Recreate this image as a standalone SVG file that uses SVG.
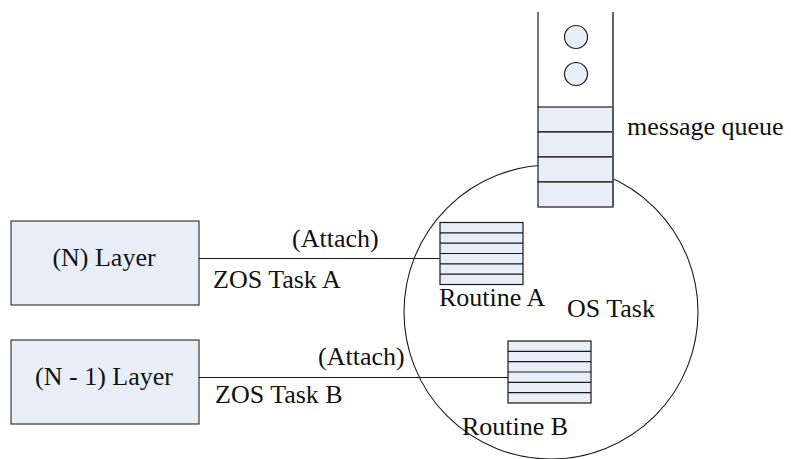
<svg xmlns="http://www.w3.org/2000/svg" width="791" height="459" viewBox="0 0 791 459">
  <style>
    .box { fill: #e8eef8; stroke: #3a3a3a; stroke-width: 1.2; }
    .cell { fill: #e8eef8; stroke: #1a1a1a; stroke-width: 1.2; }
    .row { stroke: #1a1a1a; stroke-width: 1.2; }
    .wire { stroke: #1a1a1a; stroke-width: 1.2; fill: none; }
    .lbl { font-family: "Liberation Serif", "Times New Roman", serif; font-size: 26px; fill: #111; }
    .mid { text-anchor: middle; }
  </style>

  <!-- OS task boundary -->
  <g id="os-task">
    <circle cx="551" cy="312" r="147" fill="none" stroke="#1a1a1a" stroke-width="1.1"/>
    <text class="lbl" x="567" y="317">OS Task</text>
  </g>

  <!-- message queue: open-topped stack of cells with two pending messages -->
  <g id="message-queue">
    <rect x="538" y="12" width="75" height="95" fill="#ffffff"/>
    <rect class="cell" x="538" y="107" width="75" height="25"/>
    <rect class="cell" x="538" y="132" width="75" height="25"/>
    <rect class="cell" x="538" y="157" width="75" height="25"/>
    <rect class="cell" x="538" y="182" width="75" height="25"/>
    <line class="row" x1="538" y1="12" x2="538" y2="107"/>
    <line x1="613" y1="12" x2="613" y2="207" stroke="#555" stroke-width="1.8"/>
    <circle class="cell" cx="576" cy="37" r="11.5"/>
    <circle class="cell" cx="576" cy="74" r="11.5"/>
    <text class="lbl" x="627" y="135">message queue</text>
  </g>

  <!-- layer boxes -->
  <g id="layer-n">
    <rect class="box" x="11" y="221" width="188" height="84"/>
    <text class="lbl mid" x="104" y="266">(N) Layer</text>
  </g>
  <g id="layer-n-1">
    <rect class="box" x="11" y="340" width="188" height="84"/>
    <text class="lbl mid" x="104" y="385">(N - 1) Layer</text>
  </g>

  <!-- routines inside the OS task -->
  <g id="routine-a">
    <rect class="cell" x="440" y="222.5" width="83" height="62"/>
    <path class="row" d="M440 232.8H523M440 243.2H523M440 253.5H523M440 263.8H523M440 274.2H523"/>
    <text class="lbl" x="439" y="306">Routine A</text>
  </g>
  <g id="routine-b">
    <rect class="cell" x="508" y="341" width="83" height="62"/>
    <path class="row" d="M508 351.3H591M508 361.7H591M508 372H591M508 382.3H591M508 392.7H591"/>
    <text class="lbl" x="462" y="435">Routine B</text>
  </g>

  <!-- attach connectors -->
  <g id="connectors">
    <line class="wire" x1="199" y1="258.5" x2="440" y2="258.5"/>
    <line class="wire" x1="199" y1="377.5" x2="508" y2="377.5"/>
    <text class="lbl" x="292" y="247">(Attach)</text>
    <text class="lbl" x="213" y="288">ZOS Task A</text>
    <text class="lbl" x="318" y="365">(Attach)</text>
    <text class="lbl" x="215" y="403">ZOS Task B</text>
  </g>
</svg>
